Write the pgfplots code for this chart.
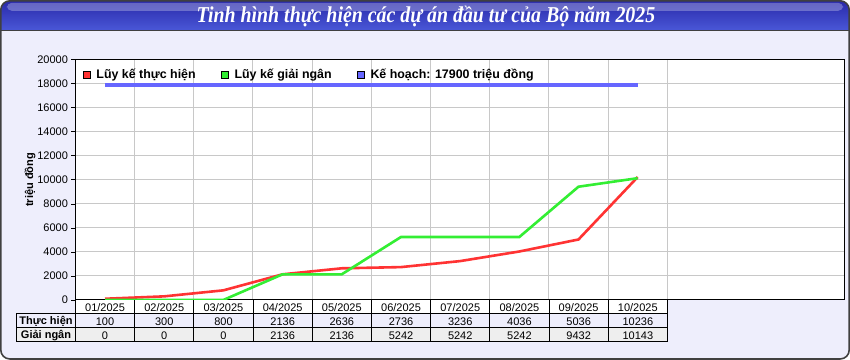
\documentclass[border=0pt]{standalone}
\usepackage{pgfplots}
\pgfplotsset{compat=1.18}
\usepackage{fontspec}
\setmainfont{Liberation Sans}
\newfontfamily\titlefont{Liberation Serif}
\definecolor{bgc}{HTML}{EEEEFC}
\definecolor{framec}{HTML}{404040}
\definecolor{redc}{HTML}{FF3333}
\definecolor{greenc}{HTML}{33EE33}
\definecolor{bluec}{HTML}{6666FF}
\definecolor{gridc}{HTML}{C8C8C8}
\definecolor{tbA}{HTML}{2828A8}
\definecolor{tbB}{HTML}{0000BE}
\definecolor{tbC}{HTML}{4A58D8}
\definecolor{rowgray}{HTML}{EEEEEE}
\begin{document}
\begin{tikzpicture}
\begin{scope}[x=1bp,y=-1bp]
  \fill[bgc, rounded corners=9bp] (1,1) rectangle (849,359);
  \begin{scope}
    \clip[rounded corners=9bp] (1,1) rectangle (849,359);
    \shade[top color=tbA, middle color=tbB, bottom color=tbC] (0,0) rectangle (850,31);
    \fill[white, opacity=0.28, rounded corners=5bp] (7,3) rectangle (843,11);
  \end{scope}
  \draw[framec, line width=1bp] (1,31) -- (849,31);
  \draw[framec, line width=1.6bp, rounded corners=9bp] (1,1) rectangle (849,359);
  \node[text=white, font=\titlefont\bfseries\itshape\fontsize{21bp}{24bp}\selectfont] at (426,16.5) {\scalebox{0.945}[1.08]{Tinh hình thực hiện các dự án đầu tư của Bộ năm 2025}};
  % table
  \fill[white] (75.6,300) rectangle (667.3,314);
  \fill[bgc] (16.7,314) rectangle (667.3,328);
  \fill[rowgray] (16.7,328) rectangle (667.3,342);
  \draw[black, line width=1bp] (75.6,300) -- (75.6,314) (16.7,314) rectangle (667.3,342) (16.7,328) -- (667.3,328) (667.3,300) -- (667.3,314);
  \foreach \i in {0,...,9} {
    \draw[black, line width=1bp] ({75.6+59.17*\i},300) -- ({75.6+59.17*\i},342);
  }
  \node[font=\bfseries\fontsize{11bp}{13bp}\selectfont] at (46.2,321.3) {Thực hiện};
  \node[font=\bfseries\fontsize{11bp}{13bp}\selectfont] at (46.2,335.3) {Giải ngân};
  \foreach \m [count=\i from 0] in {01,02,03,04,05,06,07,08,09,10} {
    \node[font=\fontsize{11bp}{13bp}\selectfont] at ({105.2+59.17*\i},307.3) {\m/2025};
  }
  \foreach \v [count=\i from 0] in {100,300,800,2136,2636,2736,3236,4036,5036,10236} {
    \node[font=\fontsize{11bp}{13bp}\selectfont] at ({105.2+59.17*\i},321.3) {\v};
  }
  \foreach \v [count=\i from 0] in {0,0,0,2136,2136,5242,5242,5242,9432,10143} {
    \node[font=\fontsize{11bp}{13bp}\selectfont] at ({105.2+59.17*\i},335.3) {\v};
  }
\end{scope}
\begin{axis}[
  at={(75.6bp,-300bp)}, anchor=south west,
  scale only axis, width=769bp, height=240bp,
  xmin=0, xmax=13, ymin=0, ymax=20000,
  xtick={1,...,10}, xticklabels={}, xtick style={draw=none},
  ytick={0,2000,...,20000}, ytick pos=left, scaled y ticks=false,
  tick align=outside, major tick length=4bp, ytick style={black, line width=0.8bp},
  yticklabel style={/pgf/number format/fixed, /pgf/number format/1000 sep={}, /pgf/number format/assume math mode=true, font=\fontsize{11bp}{13bp}\selectfont},
  grid=major, grid style={gridc, line width=1bp},
  axis line style={black, line width=1bp},
  axis background/.style={fill=white},
  ylabel={triệu đồng}, ylabel style={font=\bfseries\fontsize{11bp}{13bp}\selectfont, at={(axis description cs:-0.059,0.5)}, anchor=center},
  legend columns=-1,
  legend style={at={(axis description cs:0,1)}, anchor=north west, xshift=4bp, yshift=-5bp, draw=none, fill=none,
    font=\bfseries\fontsize{12.4bp}{14bp}\selectfont,
    /tikz/every odd column/.append style={column sep=4bp},
    /tikz/every even column/.append style={column sep=23bp},
    legend cell align=left},
]
\addplot[redc, line width=2.6bp, legend image code/.code={\draw[black, fill=redc, line width=0.8bp] (0bp,-3.5bp) rectangle (7bp,3.5bp);}] coordinates {
  (0.5,100) (1.5,300) (2.5,800) (3.5,2136) (4.5,2636) (5.5,2736) (6.5,3236) (7.5,4036) (8.5,5036) (9.5,10236)};
\addlegendentry{Lũy kế thực hiện}
\addplot[greenc, line width=2.6bp, legend image code/.code={\draw[black, fill=greenc, line width=0.8bp] (0bp,-3.5bp) rectangle (7bp,3.5bp);}] coordinates {
  (0.5,0) (1.5,0) (2.5,0) (3.5,2136) (4.5,2136) (5.5,5242) (6.5,5242) (7.5,5242) (8.5,9432) (9.5,10143)};
\addlegendentry{Lũy kế giải ngân}
\addplot[bluec, line width=3.2bp, legend image code/.code={\draw[black, fill=bluec, line width=0.8bp] (0bp,-3.5bp) rectangle (7bp,3.5bp);}] coordinates {
  (0.5,17900) (9.5,17900)};
\addlegendentry{Kế hoạch: 17900 triệu đồng}
\end{axis}
\end{tikzpicture}
\end{document}
